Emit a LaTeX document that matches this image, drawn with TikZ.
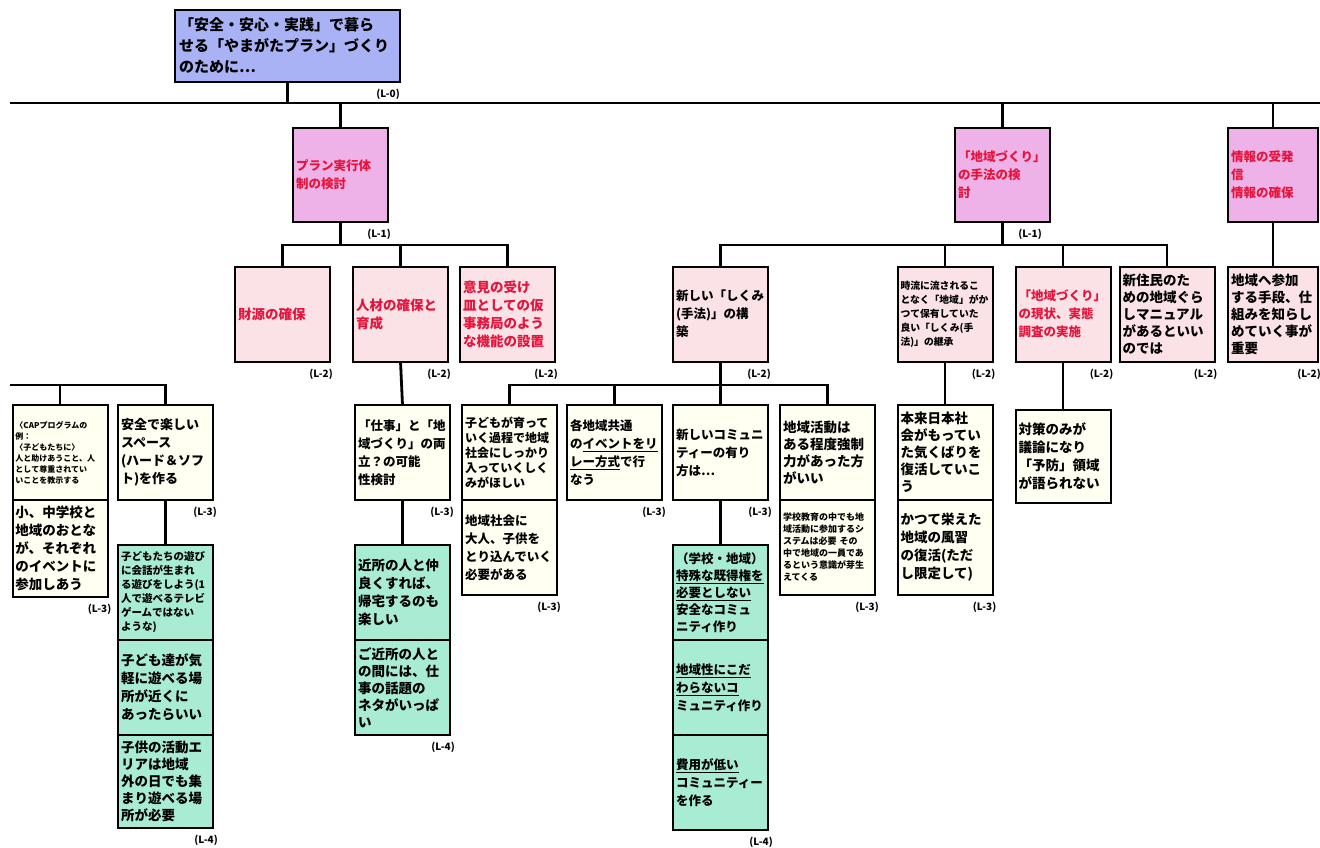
\documentclass[tikz,border=0pt]{standalone}
\usepackage{fontspec}
\newfontfamily\jp{Noto Sans CJK JP}
\usetikzlibrary{positioning}
\definecolor{rootblue}{RGB}{168,178,245}
\definecolor{headpink}{RGB}{238,178,232}
\definecolor{midpink}{RGB}{250,226,230}
\definecolor{leafcream}{RGB}{255,255,242}
\definecolor{leafgreen}{RGB}{168,236,212}
\definecolor{planred}{RGB}{228,20,60}
\newcommand{\fsz}[2]{\fontsize{#1}{#2}\selectfont}

\begin{document}
\begin{tikzpicture}[x=1pt,y=-1pt,
  box/.style={draw, line width=2pt, inner sep=3pt, outer sep=0pt, align=left,
    font=\jp\bfseries\fsz{13.5}{18}},
  rootbox/.style={box, fill=rootblue, minimum width=225pt, minimum height=72pt,
    text width=217pt, font=\jp\bfseries\fsz{15}{21}},
  headbox/.style={box, fill=headpink, text=planred, minimum width=95pt,
    minimum height=94pt, text width=89pt, font=\jp\bfseries\fsz{12.5}{18}},
  midbox/.style={box, fill=midpink, minimum width=95pt, minimum height=95pt, text width=89pt},
  leaf/.style={box, fill=leafcream, minimum width=95pt, minimum height=95pt, text width=89pt},
  leafG/.style={box, fill=leafgreen, minimum width=95pt, minimum height=95pt, text width=89pt},
  lvl/.style={font=\jp\bfseries\fsz{10}{10}, anchor=north east, inner sep=0pt},
  conn/.style={line width=2.8pt}]
\useasboundingbox (0,0) rectangle (1320,847);

% L-0
\node[rootbox] (root) at (287.5,46) {「安全・安心・実践」で暮ら\\せる「やまがたプラン」づくり\\のために…};
\node[lvl] (rootL) at ([yshift=-7pt]root.south east) {(L-0)};

% L-1
\node[headbox] (plan) at (340.5,175) {プラン実行体\\制の検討};
\node[headbox] (chiiki) at (1002.5,175) {「地域づくり」\\の手法の検\\討};
\node[headbox, minimum width=90pt, text width=84pt] (joho) at (1273,175) {情報の受発\\信\\情報の確保};
\node[lvl] (planL) at ([xshift=3pt,yshift=-7pt]plan.south east) {(L-1)};
\node[lvl] (chiikiL) at ([xshift=-8pt,yshift=-7pt]chiiki.south east) {(L-1)};

% L-2
\node[midbox, text=planred] (zaigen) at (282.5,314) {財源の確保};
\node[midbox, text=planred] (jinzai) at (400.5,314) {人材の確保と\\育成};
\node[midbox, text=planred] (iken) at (507.5,314) {意見の受け\\皿としての仮\\事務局のよう\\な機能の設置};
\node[midbox, font=\jp\bfseries\fsz{12.5}{18}] (shikumi) at (720.5,314) {新しい「しくみ\\(手法)」の構\\築};
\node[midbox, font=\jp\bfseries\fsz{9.8}{14}] (jidai) at (945,314) {時流に流されるこ\\となく「地域」がか\\つて保有していた\\良い「しくみ(手\\法)」の継承};
\node[midbox, text=planred, font=\jp\bfseries\fsz{12.5}{18}] (genjo) at (1063,314) {「地域づくり」\\の現状、実態\\調査の実施};
\node[midbox, font=\jp\bfseries\fsz{13.5}{17}] (shinjumin) at (1167,314) {新住民のた\\めの地域ぐら\\しマニュアル\\があるといい\\のでは};
\node[midbox, minimum width=90pt, text width=84pt, font=\jp\bfseries\fsz{13.5}{17}] (sanka) at (1273,314) {地域へ参加\\する手段、仕\\組みを知らし\\めていく事が\\重要};
\foreach \n in {zaigen,jinzai,iken,shikumi,jidai,genjo,shinjumin,sanka}
  \node[lvl] (\n L) at ([xshift=3pt,yshift=-7pt]\n.south east) {(L-2)};

% L-3
\node[leaf, font=\jp\bfseries\fsz{8}{11}] (cap) at (60,452.5) {〈CAPプログラムの\\例：\\〈子どもたちに〉\\人と助けあうこと、人\\として尊重されてい\\いことを教示する};
\node[leaf, below=0pt of cap, minimum height=97pt] (cap2) {小、中学校と\\地域のおとな\\が、それぞれ\\のイベントに\\参加しあう};
\node[leaf, font=\jp\bfseries\fsz{13}{18}] (anzen) at (165.5,452.5) {安全で楽しい\\スペース\\(ハード＆ソフ\\ト)を作る};
\node[leaf, font=\jp\bfseries\fsz{12.5}{18}] (shigoto) at (402.5,452.5) {「仕事」と「地\\域づくり」の両\\立？の可能\\性検討};
\node[leaf, font=\jp\bfseries\fsz{12}{15}] (kodomo) at (509.5,452.5) {子どもが育って\\いく過程で地域\\社会にしっかり\\入っていくしく\\みがほしい};
\node[leaf, below=0pt of kodomo, font=\jp\bfseries\fsz{12.5}{18}] (kodomo2) {地域社会に\\大人、子供を\\とり込んでいく\\必要がある};
\node[leaf, font=\jp\bfseries\fsz{12.5}{18}] (event) at (614.5,452.5) {各地域共通\\の\underline{イベントをリ}\\\underline{レー方式}で行\\なう};
\node[leaf, font=\jp\bfseries\fsz{12.5}{18}] (comm) at (720.5,452.5) {新しいコミュニ\\ティーの有り\\方は…};
\node[leaf, font=\jp\bfseries\fsz{13.5}{17}] (katsudo) at (827.5,452.5) {地域活動は\\ある程度強制\\力があった方\\がいい};
\node[leaf, below=0pt of katsudo, font=\jp\bfseries\fsz{9}{12}] (katsudo2) {学校教育の中でも地\\域活動に参加するシ\\ステムは必要 その\\中で地域の一員であ\\るという意識が芽生\\えてくる};
\node[leaf, font=\jp\bfseries\fsz{13.5}{17}] (honrai) at (945,452.5) {本来日本社\\会がもってい\\た気くばりを\\復活していこ\\う};
\node[leaf, below=0pt of honrai] (katsute) {かつて栄えた\\地域の風習\\の復活(ただ\\し限定して)};
\node[leaf, minimum height=93pt] (taisaku) at (1063,456) {対策のみが\\議論になり\\「予防」領域\\が語られない};
\foreach \n in {cap2,anzen,shigoto,kodomo2,event,comm,katsudo2,katsute}
  \node[lvl] (\n L) at ([xshift=4pt,yshift=-7pt]\n.south east) {(L-3)};

% L-4
\node[leafG, font=\jp\bfseries\fsz{10.5}{14}] (anzenG1) at (165.5,592.5) {子どもたちの遊び\\に会話が生まれ\\る遊びをしよう(1\\人で遊べるテレビ\\ゲームではない\\ような)};
\node[leafG, below=0pt of anzenG1] (anzenG2) {子ども達が気\\軽に遊べる場\\所が近くに\\あったらいい};
\node[leafG, below=0pt of anzenG2, minimum height=93pt, font=\jp\bfseries\fsz{13.5}{17}] (anzenG3) {子供の活動エ\\リアは地域\\外の日でも集\\まり遊べる場\\所が必要};
\node[leafG] (shigotoG1) at (402.5,592.5) {近所の人と仲\\良くすれば、\\帰宅するのも\\楽しい};
\node[leafG, below=0pt of shigotoG1, font=\jp\bfseries\fsz{13.5}{17}] (shigotoG2) {ご近所の人と\\の間には、仕\\事の話題の\\ネタがいっぱ\\い};
\node[leafG, font=\jp\bfseries\fsz{12.5}{17}] (commG1) at (720.5,592.5) {（学校・地域）\\\underline{特殊な既得権を}\\\underline{必要としない}\\安全なコミュ\\ニティ作り};
\node[leafG, below=0pt of commG1, font=\jp\bfseries\fsz{12.5}{18}] (commG2) {\underline{地域性にこだ}\\\underline{わらないコ}\\ミュニティ作り};
\node[leafG, below=0pt of commG2, font=\jp\bfseries\fsz{12.5}{18}] (commG3) {\underline{費用が低い}\\コミュニティー\\を作る};
\foreach \n in {anzenG3,shigotoG2,commG3}
  \node[lvl] (\n L) at ([xshift=5pt,yshift=-7pt]\n.south east) {(L-4)};

% connectors
\coordinate (busW) at (10,103);
\coordinate (busE) at (1320,103);
\draw[conn] (busW) -- (busE);
\draw[conn] (root.south) -- (root.south |- busW);
\foreach \n in {plan,chiiki,joho}
  \draw[conn] (\n.north) -- (\n.north |- busW);

\coordinate (jct1) at (340.5,245);
\draw[conn] (zaigen.north) |- (jct1) -| (iken.north);
\draw[conn] (jinzai.north) -- (jinzai.north |- jct1);
\draw[conn] (plan.south) -- (jct1);

\coordinate (jct2) at (1002.5,245);
\draw[conn] (shikumi.north) |- (jct2) -| (shinjumin.north);
\draw[conn] (jidai.north) -- (jidai.north |- jct2);
\draw[conn] (genjo.north) -- (genjo.north |- jct2);
\draw[conn] (chiiki.south) -- (jct2);
\draw[conn] (joho.south) -- (sanka.north);

\coordinate (jct3) at (720.5,385);
\draw[conn] (kodomo.north) |- (jct3) -| (katsudo.north);
\draw[conn] (event.north) -- (event.north |- jct3);
\draw[conn] (shikumi.south) -- (comm.north);
\draw[conn] (jinzai.south) -- (shigoto.north);
\draw[conn] (jidai.south) -- (honrai.north);
\draw[conn] (genjo.south) -- (taisaku.north);

\coordinate (leftend) at (10,385);
\draw[conn] (leftend) -| (anzen.north);
\draw[conn] (cap.north) -- (cap.north |- leftend);

\draw[conn] (anzen.south) -- (anzenG1.north);
\draw[conn] (shigoto.south) -- (shigotoG1.north);
\draw[conn] (comm.south) -- (commG1.north);
\end{tikzpicture}
\end{document}
